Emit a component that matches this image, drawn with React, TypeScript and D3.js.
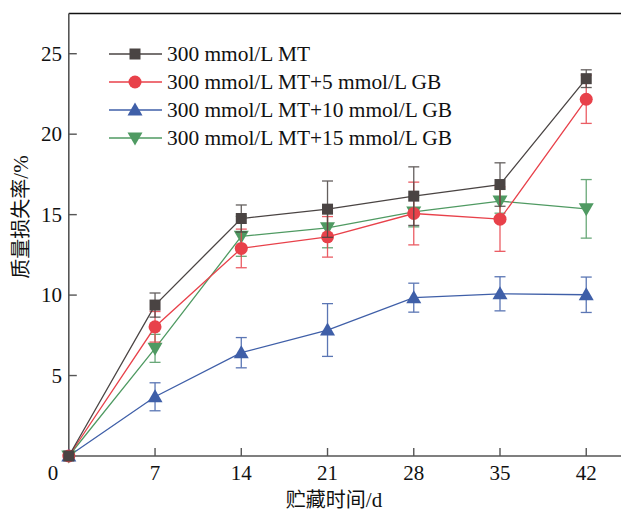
import React from "react";
import * as d3 from "d3";

const days = [0, 7, 14, 21, 28, 35, 42];
const seriesNames = [
  "300 mmol/L MT",
  "300 mmol/L MT+5 mmol/L GB",
  "300 mmol/L MT+10 mmol/L GB",
  "300 mmol/L MT+15 mmol/L GB",
];
const mtValues = [0, 9.38, 14.76, 15.34, 16.15, 16.87, 23.45];
const mtErrors = [0, 0.75, 0.84, 1.75, 1.82, 1.35, 0.55];
const gb5Values = [0, 8.03, 12.9, 13.62, 15.07, 14.72, 22.17];
const gb5Errors = [0, 0.95, 1.2, 1.26, 1.95, 2.0, 1.5];
const gb10Values = [0, 3.68, 6.42, 7.83, 9.84, 10.08, 10.02];
const gb10Errors = [0, 0.87, 0.94, 1.64, 0.9, 1.06, 1.1];
const gb15Values = [0, 6.69, 13.65, 14.18, 15.17, 15.84, 15.36];
const gb15Errors = [0, 0.87, 1.24, 1.24, 0.93, 0.75, 1.82];
const xTicks = [7, 14, 21, 28, 35, 42];
const yTicks = [5, 10, 15, 20, 25];

const colors = ["#4a4443", "#e8414a", "#3f5fa8", "#4f9a62"];
const markers = ["square", "circle", "triangle", "triangleDown"];

const W = 621;
const H = 514;

function Marker({ type, x, y, color }: { type: string; x: number; y: number; color: string }) {
  if (type === "square") return <rect x={x - 5.5} y={y - 5.5} width={11} height={11} fill={color} />;
  if (type === "circle") return <circle cx={x} cy={y} r={6.5} fill={color} />;
  if (type === "triangle")
    return <path d={`M${x},${y - 7.5}L${x + 7.5},${y + 5.5}L${x - 7.5},${y + 5.5}Z`} fill={color} />;
  return <path d={`M${x},${y + 7.5}L${x + 7.5},${y - 5.5}L${x - 7.5},${y - 5.5}Z`} fill={color} />;
}

export default function App() {
  const x = d3.scaleLinear().domain([0, 45]).range([68.8, 68.8 + 45 * 12.32]);
  const y = d3.scaleLinear().domain([0, 27.5]).range([456, 13.5]);
  const series = [
    { v: mtValues, e: mtErrors },
    { v: gb5Values, e: gb5Errors },
    { v: gb10Values, e: gb10Errors },
    { v: gb15Values, e: gb15Errors },
  ];
  const line = d3
    .line<number>()
    .x((_, i) => x(days[i]))
    .y((d) => y(d));
  const order = [2, 3, 1, 0];
  const serif = "'Liberation Serif', 'Times New Roman', serif";
  const cjk = "'Noto Sans CJK SC', sans-serif";
  return (
    <svg width={W} height={H} style={{ position: "absolute", left: 0, top: 0, background: "#fff" }}>
      {/* axes */}
      <line x1={x(0)} x2={W} y1={y(27.5)} y2={y(27.5)} stroke="#111" strokeWidth={1.6} />
      <line x1={x(0)} x2={x(0)} y1={y(0)} y2={y(27.5)} stroke="#555" strokeWidth={1.6} />
      <line x1={x(0)} x2={W} y1={y(0)} y2={y(0)} stroke="#555" strokeWidth={1.6} />
      {yTicks.map((t) => (
        <g key={"y" + t}>
          <line x1={x(0)} x2={x(0) + 8} y1={y(t)} y2={y(t)} stroke="#555" strokeWidth={1.4} />
          <text x={62} y={y(t) + 7} textAnchor="end" fontSize={21} fontFamily={serif} fill="#111">
            {t}
          </text>
        </g>
      ))}
      {xTicks.map((t) => (
        <g key={"x" + t}>
          <line x1={x(t)} x2={x(t)} y1={y(0)} y2={y(0) - 8} stroke="#555" strokeWidth={1.4} />
          <text x={x(t)} y={480} textAnchor="middle" fontSize={21} fontFamily={serif} fill="#111">
            {t}
          </text>
        </g>
      ))}
      <text x={53} y={480} textAnchor="middle" fontSize={21} fontFamily={serif} fill="#111">
        0
      </text>
      <text x={334} y={507} textAnchor="middle" fontSize={20} fontFamily={cjk} fill="#111">
        贮藏时间<tspan fontFamily={serif} fontSize={21}>/d</tspan>
      </text>
      <text
        transform={`translate(28,217) rotate(-90)`}
        textAnchor="middle"
        fontSize={20}
        fontFamily={cjk}
        fill="#111"
      >
        质量损失率<tspan fontFamily={serif} fontSize={21}>/%</tspan>
      </text>
      {/* series */}
      {order.map((si) => {
        const s = series[si];
        const c = colors[si];
        return (
          <g key={"s" + si}>
            <path d={line(s.v) || ""} fill="none" stroke={c} strokeWidth={1.3} />
            {s.v.map((v, i) =>
              s.e[i] > 0 ? (
                <g key={i} stroke={c} strokeWidth={1.3} opacity={0.85}>
                  <line x1={x(days[i])} x2={x(days[i])} y1={y(v - s.e[i])} y2={y(v + s.e[i])} />
                  <line x1={x(days[i]) - 5.5} x2={x(days[i]) + 5.5} y1={y(v - s.e[i])} y2={y(v - s.e[i])} />
                  <line x1={x(days[i]) - 5.5} x2={x(days[i]) + 5.5} y1={y(v + s.e[i])} y2={y(v + s.e[i])} />
                </g>
              ) : null
            )}
            {s.v.map((v, i) => (
              <Marker key={"m" + i} type={markers[si]} x={x(days[i])} y={y(v)} color={c} />
            ))}
          </g>
        );
      })}
      {/* legend */}
      {seriesNames.map((n, i) => {
        const ly = 54 + i * 28;
        return (
          <g key={"l" + i}>
            <line x1={109} x2={162} y1={ly} y2={ly} stroke={colors[i]} strokeWidth={1.3} />
            <Marker type={markers[i]} x={135} y={ly} color={colors[i]} />
            <text x={167} y={ly + 7} fontSize={21.4} fontFamily={serif} fill="#111">
              {n}
            </text>
          </g>
        );
      })}
    </svg>
  );
}
